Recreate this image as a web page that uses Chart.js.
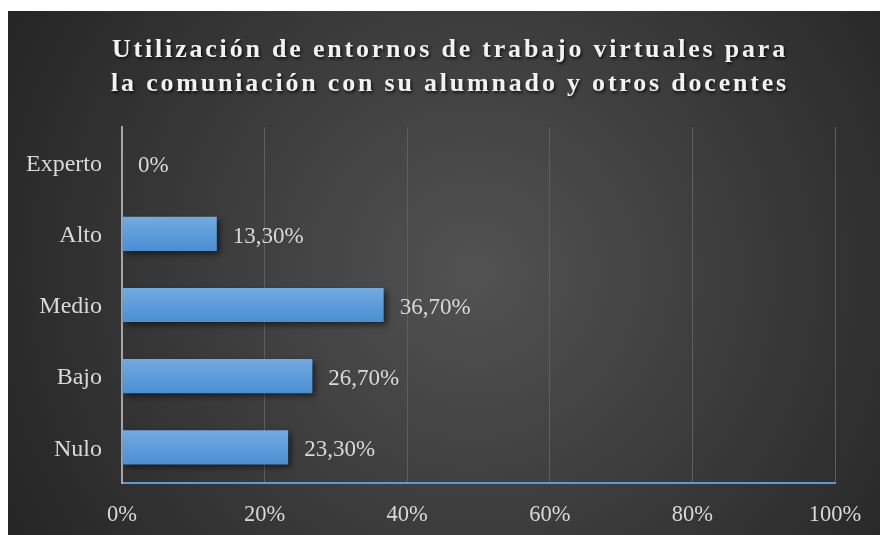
<!DOCTYPE html>
<html>
<head>
<meta charset="utf-8">
<script src="https://cdn.jsdelivr.net/npm/chart.js@4.4.1/dist/chart.umd.min.js"></script>
<style>
  html, body { margin: 0; padding: 0; background: #ffffff; }
  #wrap { width: 882px; height: 535px; position: relative; }
</style>
</head>
<body>
<div id="wrap"><canvas id="c" width="882" height="535"></canvas></div>
<script>
const categories = ['Experto', 'Alto', 'Medio', 'Bajo', 'Nulo'];
const values = [0, 13.3, 36.7, 26.7, 23.3];
const valueLabels = ['0%', '13,30%', '36,70%', '26,70%', '23,30%'];
const xTicks = [0, 20, 40, 60, 80, 100];
const titleLines = ['Utilización de entornos de trabajo virtuales para', 'la comuniación con su alumnado y otros docentes'];

const SERIF = '"Liberation Serif", "Times New Roman", serif';

const bgPlugin = {
  id: 'bg',
  beforeDraw(chart) {
    const ctx = chart.ctx;
    const W = chart.width, H = chart.height;
    ctx.save();
    ctx.fillStyle = '#ffffff';
    ctx.fillRect(0, 0, W, H);
    const x0 = 8, y0 = 11, x1 = 880, y1 = 535;
    const cx = (x0 + x1) / 2 + 30, cy = (y0 + y1) / 2;
    const g = ctx.createRadialGradient(cx, cy, 0, cx, cy, 520);
    g.addColorStop(0, '#525252');
    g.addColorStop(1, '#262626');
    ctx.fillStyle = g;
    ctx.fillRect(x0, y0, x1 - x0, y1 - y0);
    // title
    ctx.font = 'bold 26px ' + SERIF;
    ctx.letterSpacing = '2.8px';
    ctx.fillStyle = '#f2f2f2';
    ctx.textAlign = 'center';
    ctx.textBaseline = 'alphabetic';
    ctx.shadowColor = 'rgba(0,0,0,0.7)';
    ctx.shadowBlur = 3;
    ctx.shadowOffsetX = 1.5;
    ctx.shadowOffsetY = 2;
    ctx.fillText(titleLines[0], 450, 57);
    ctx.fillText(titleLines[1], 450, 91);
    ctx.restore();
  }
};

const shadowPlugin = {
  id: 'barShadow',
  beforeDatasetsDraw(chart) {
    const ctx = chart.ctx;
    ctx.save();
    ctx.shadowColor = 'rgba(0,0,0,0.55)';
    ctx.shadowBlur = 6;
    ctx.shadowOffsetX = 3;
    ctx.shadowOffsetY = 3;
  },
  afterDatasetsDraw(chart) {
    const ctx = chart.ctx;
    ctx.restore();
    const meta = chart.getDatasetMeta(0);
    ctx.save();
    ctx.font = '23px ' + SERIF;
    ctx.fillStyle = '#d9d9d9';
    ctx.textAlign = 'left';
    ctx.textBaseline = 'middle';
    meta.data.forEach((bar, i) => {
      ctx.fillText(valueLabels[i], bar.x + 16, bar.y + 3);
    });
    ctx.restore();
  }
};

function barFill(context) {
  const chart = context.chart;
  const y = chart.scales && chart.scales.y;
  if (!y || !chart.chartArea || context.dataIndex === undefined) return '#5b9bd5';
  const c = y.getPixelForValue(context.dataIndex);
  if (!isFinite(c)) return '#5b9bd5';
  const g = chart.ctx.createLinearGradient(0, c - 17, 0, c + 17);
  g.addColorStop(0, '#72aae0');
  g.addColorStop(1, '#4a8fd4');
  return g;
}

new Chart(document.getElementById('c'), {
  type: 'bar',
  data: {
    labels: categories,
    datasets: [{
      data: values,
      backgroundColor: barFill,
      borderWidth: 0,
      barPercentage: 0.8,
      categoryPercentage: 0.6
    }]
  },
  options: {
    indexAxis: 'y',
    responsive: false,
    animation: false,
    devicePixelRatio: 1,
    layout: { padding: { top: 127, right: 47, left: 0, bottom: 0 } },
    plugins: {
      legend: { display: false },
      title: { display: false },
      tooltip: { enabled: false }
    },
    scales: {
      x: {
        min: 0, max: 100,
        afterBuildTicks(scale) { scale.ticks = xTicks.map(v => ({ value: v })); },
        afterFit(scale) { scale.height = 52; },
        ticks: {
          callback: v => v + '%',
          color: '#d9d9d9',
          font: { family: SERIF, size: 22.5 },
          padding: 19,
          maxRotation: 0
        },
        grid: { color: '#5e5e5e', lineWidth: 1, drawTicks: false },
        border: { color: '#5b9bd5', width: 2 }
      },
      y: {
        afterFit(scale) { scale.width = 122; },
        ticks: {
          color: '#d9d9d9',
          font: { family: SERIF, size: 24 },
          padding: 20,
          labelOffset: 2
        },
        grid: { display: false, drawTicks: false },
        border: { color: '#a6a6a6', width: 2 }
      }
    }
  },
  plugins: [bgPlugin, shadowPlugin]
});
</script>
</body>
</html>
